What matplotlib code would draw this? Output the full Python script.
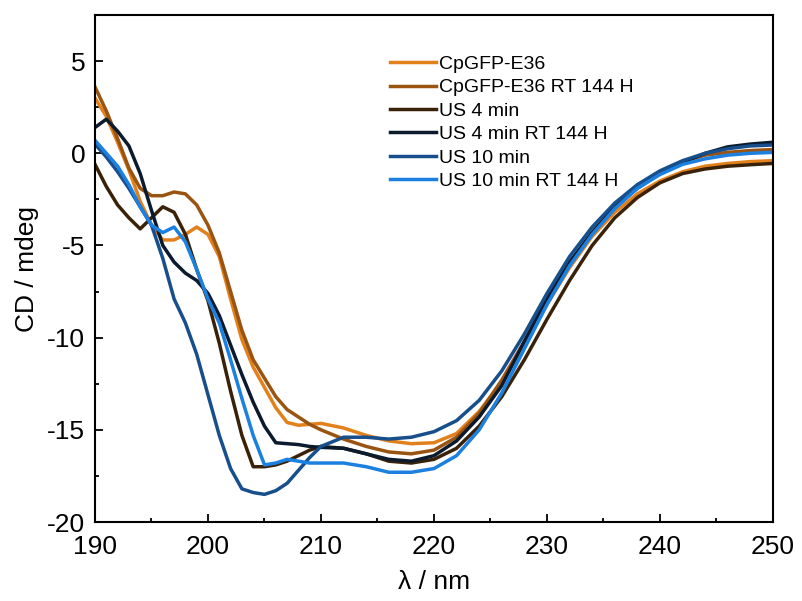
import numpy as np
import matplotlib
matplotlib.use("Agg")
import matplotlib.pyplot as plt
from matplotlib.ticker import MultipleLocator

plt.rcParams['font.family'] = ['Liberation Sans', 'DejaVu Sans']
plt.rcParams['axes.unicode_minus'] = False

# wavelength grid (1 nm up to 210, then 2 nm)
wl = list(range(190, 211)) + list(range(212, 251, 2))

cpgfp = [3.0, 2.0, 0.6, -0.9, -2.6, -3.9, -4.7, -4.7, -4.4, -4.0, -4.4,
         -5.6, -7.9, -10.1, -11.6, -12.7, -13.8, -14.6, -14.75, -14.7, -14.65,
         -14.9, -15.3, -15.6, -15.75, -15.7, -15.2, -14.0, -12.4, -10.4, -8.2,
         -6.2, -4.5, -3.2, -2.2, -1.5, -1.0, -0.7, -0.55, -0.45, -0.4]
cpgfp_rt = [3.6, 2.3, 0.8, -0.8, -1.9, -2.3, -2.3, -2.1, -2.2, -2.8, -3.9,
            -5.4, -7.5, -9.6, -11.2, -12.2, -13.2, -13.9, -14.3, -14.7, -15.0,
            -15.5, -15.9, -16.2, -16.3, -16.1, -15.4, -14.1, -12.3, -10.2, -8.0,
            -6.0, -4.3, -2.9, -1.8, -1.0, -0.45, -0.1, 0.05, 0.15, 0.2]
us4 = [-0.6, -1.8, -2.8, -3.5, -4.1, -3.5, -2.9, -3.2, -4.4, -6.3, -8.0,
       -10.3, -12.9, -15.3, -17.0, -17.0, -16.9, -16.7, -16.4, -16.1, -15.9,
       -16.0, -16.3, -16.7, -16.8, -16.6, -16.0, -14.8, -13.2, -11.2, -9.0,
       -6.9, -5.0, -3.5, -2.4, -1.6, -1.1, -0.85, -0.7, -0.62, -0.55]
us4_rt = [1.4, 1.85, 1.2, 0.4, -1.1, -3.1, -5.0, -5.9, -6.5, -6.9, -7.6,
          -8.8, -10.4, -12.0, -13.5, -14.8, -15.7, -15.75, -15.8, -15.9, -15.95,
          -16.0, -16.3, -16.6, -16.7, -16.4, -15.6, -14.3, -12.6, -10.2, -7.9,
          -5.9, -4.3, -2.9, -1.9, -1.1, -0.5, 0.0, 0.35, 0.5, 0.6]
us10 = [0.5, -0.2, -1.0, -1.9, -2.9, -3.9, -5.7, -7.9, -9.2, -10.9, -13.1,
        -15.3, -17.1, -18.2, -18.4, -18.5, -18.3, -17.9, -17.2, -16.5, -15.9,
        -15.4, -15.4, -15.5, -15.4, -15.1, -14.5, -13.4, -11.8, -9.8, -7.6,
        -5.6, -4.0, -2.7, -1.7, -0.95, -0.4, 0.0, 0.25, 0.4, 0.45]
us10_rt = [0.7, 0.0, -0.7, -1.7, -2.9, -3.9, -4.3, -4.0, -4.8, -6.3, -7.9,
           -9.2, -11.2, -13.3, -15.3, -16.9, -16.8, -16.6, -16.7, -16.8, -16.8,
           -16.8, -17.0, -17.3, -17.3, -17.1, -16.4, -15.0, -13.0, -10.6, -8.2,
           -6.1, -4.4, -3.0, -1.9, -1.15, -0.6, -0.3, -0.1, 0.0, 0.05]

labels = ['CpGFP-E36', 'CpGFP-E36 RT 144 H', 'US 4 min', 'US 4 min RT 144 H',
          'US 10 min', 'US 10 min RT 144 H']
colors = ['#E2801C', '#9A5412', '#3A2209', '#0C1A2D', '#174E8C', '#1B80E0']
series = [cpgfp, cpgfp_rt, us4, us4_rt, us10, us10_rt]

fig = plt.figure(figsize=(8.03, 6.01), dpi=100)
ax = fig.add_axes([0.1183, 0.1314, 0.8443, 0.8436])

for y, lab, c in zip(series, labels, colors):
    ax.plot(wl, y, color=c, lw=2.5, label=lab)

ax.set_xlim(190, 250)
ax.set_ylim(-20, 7.5)
ax.xaxis.set_major_locator(MultipleLocator(10))
ax.xaxis.set_minor_locator(MultipleLocator(5))
ax.yaxis.set_major_locator(MultipleLocator(5))
ax.yaxis.set_minor_locator(MultipleLocator(2.5))
ax.tick_params(which='both', direction='in', labelsize=19, width=1.3)
ax.tick_params(which='major', length=6)
ax.tick_params(which='minor', length=3)
ax.tick_params(axis='x', pad=9)
ax.tick_params(axis='y', pad=7)
for s in ax.spines.values():
    s.set_linewidth(1.5)

ax.set_xlabel('λ / nm', fontsize=19, labelpad=8)
ax.set_ylabel('CD / mdeg', fontsize=19, labelpad=6)

ax.legend(loc='upper left', bbox_to_anchor=(0.423, 0.936), frameon=False,
          fontsize=14, handlelength=2.4, handletextpad=0.15, labelspacing=0.3,
          borderaxespad=0)

fig.savefig('out.png', dpi=100)
